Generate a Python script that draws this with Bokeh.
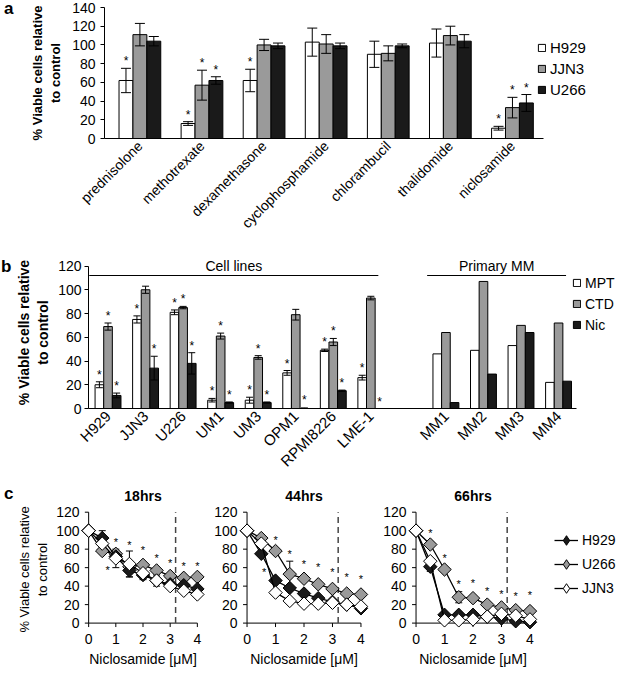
import math
from bokeh.plotting import figure
from bokeh.models import (ColumnDataSource, Whisker, TeeHead, Legend, LegendItem,
                          Range1d, FixedTicker, Div)
from bokeh.layouts import column, row
from bokeh.embed import file_html
from bokeh.resources import INLINE
from bokeh.core.properties import value

FONT = "Liberation Sans"
WHITE, GRAY, BLACK = "#ffffff", "#9a9a9a", "#1a1a1a"

# ---------------- panel a data ----------------
drugs = ["prednisolone", "methotrexate", "dexamethasone", "cyclophosphamide",
         "chlorambucil", "thalidomide", "niclosamide"]
a_names = ["H929", "JJN3", "U266"]
a_h929 = [62, 16, 62, 103, 90, 102, 11]
a_h929_err = [13, 2, 12, 15, 14, 15, 2]
a_jjn3 = [111, 57, 100, 101, 91, 110, 33]
a_jjn3_err = [12, 16, 6, 10, 8, 10, 11]
a_u266 = [104, 62, 99, 99, 99, 104, 38]
a_u266_err = [5, 4, 3, 3, 2, 7, 9]
a_h929_sig = [1, 1, 1, 0, 0, 0, 1]
a_jjn3_sig = [0, 1, 0, 0, 0, 0, 1]
a_u266_sig = [0, 1, 0, 0, 0, 0, 1]
a_yticks = [0, 20, 40, 60, 80, 100, 120, 140]

# ---------------- panel b data ----------------
b_labels = ["H929", "JJN3", "U226", "UM1", "UM3", "OPM1", "RPMI8226", "LME-1",
            "MM1", "MM2", "MM3", "MM4"]
b_pos = [0, 1, 2, 3, 4, 5, 6, 7, 9, 10, 11, 12]
b_names = ["MPT", "CTD", "Nic"]
b_mpt = [20, 75, 81, 7, 7, 30, 49, 26, 46, 49, 53, 22]
b_mpt_err = [2.5, 3, 2, 1.5, 2.5, 2, 1, 2, 0, 0, 0, 0]
b_ctd = [69, 100, 85, 61, 43, 79, 56, 93, 64, 107, 70, 72]
b_ctd_err = [3, 3, 1, 2.5, 1.5, 4.5, 3, 1.5, 0, 0, 0, 0]
b_nic = [11, 34, 38, 5, 5, -1, 15, 0, 5, 29, 64, 23]
b_nic_err = [2, 10, 9, 0.5, 0.5, 1.5, 0.5, 0, 0, 0, 0, 0]
b_mpt_sig = [1, 1, 1, 1, 1, 1, 1, 1, 0, 0, 0, 0]
b_ctd_sig = [1, 0, 1, 1, 1, 0, 1, 0, 0, 0, 0, 0]
b_nic_sig = [1, 1, 1, 1, 1, 1, 1, 1, 0, 0, 0, 0]
b_groups = ["Cell lines", "Primary MM"]
b_group_first = [0, 9]
b_group_last = [7, 12]
b_group_level = 112
b_yticks = [0, 20, 40, 60, 80, 100, 120]

# ---------------- panel c data ----------------
conc = [0, 0.5, 1, 1.5, 2, 2.5, 3, 3.5, 4]
c_names = ["H929", "U266", "JJN3"]
c_titles = ["18hrs", "44hrs", "66hrs"]
h18_h929 = [100, 92, 72, 57, 52, 46, 42, 41, 37]
h18_u266 = [100, 78, 75, 61, 63, 57, 51, 49, 50]
h18_jjn3 = [100, 86, 70, 64, 54, 46, 40, 35, 31]
h18_h929_err = [0, 8, 0, 7, 5, 0, 0, 0, 0]
h18_u266_err = [0, 0, 0, 0, 0, 0, 0, 0, 0]
h18_jjn3_err = [0, 0, 10, 14, 0, 6, 0, 0, 0]
h18_star_x = [0.7, 1, 1.5, 2, 2.5, 3, 3.5, 4]
h18_star_y = [58, 88, 85, 79, 70, 65, 62, 62]

h44_h929 = [100, 75, 46, 38, 32, 27, 23, 20, 16]
h44_u266 = [100, 92, 78, 53, 48, 42, 37, 32, 31]
h44_jjn3 = [100, 86, 33, 24, 21, 21, 22, 20, 18]
h44_h929_err = [0, 0, 0, 0, 0, 0, 0, 0, 0]
h44_u266_err = [0, 0, 0, 14, 0, 0, 0, 0, 0]
h44_jjn3_err = [0, 0, 0, 0, 0, 0, 0, 0, 0]
h44_star_x = [0.6, 1, 1.5, 2, 2.5, 3, 3.5, 4]
h44_star_y = [55, 90, 75, 64, 61, 55, 50, 48]

h66_h929 = [100, 61, 9, 9, 9, 7, 5, 2, 1]
h66_u266 = [100, 85, 58, 28, 27, 20, 17, 14, 13]
h66_jjn3 = [100, 67, 3, 3, 4, 7, 10, 8, 4]
h66_h929_err = [0, 5, 0, 0, 0, 0, 0, 0, 0]
h66_u266_err = [0, 0, 0, 6, 0, 0, 0, 0, 0]
h66_jjn3_err = [0, 0, 0, 0, 0, 0, 0, 0, 0]
h66_star_x = [0.5, 1, 1.5, 2, 2.5, 3, 3.5, 4]
h66_star_y = [97, 70, 42, 43, 35, 32, 29, 30]

threshold_conc = 3.2
c_xticks = [0, 1, 2, 3, 4]
c_yticks = [0, 20, 40, 60, 80, 100, 120]
YLABEL = "% Viable cells relative\nto control"


def style(p, tick_size="14px"):
    for ax in p.axis:
        ax.axis_line_color = "black"
        ax.axis_line_width = 1
        ax.major_tick_line_color = "black"
        ax.major_tick_out = 4
        ax.major_tick_in = 0
        ax.minor_tick_line_color = None
        ax.major_label_text_color = "black"
        ax.major_label_text_font = FONT
        ax.major_label_text_font_size = tick_size
        ax.axis_label_text_font = FONT
        ax.axis_label_text_color = "black"
    p.xgrid.grid_line_color = None
    p.ygrid.grid_line_color = None
    p.outline_line_color = None
    p.background_fill_color = None
    p.border_fill_color = None


def letter(txt, width, height, pad_top, pad_left):
    return Div(text=txt, width=width, height=height, margin=0,
               styles={"font-family": FONT, "font-size": "17px", "font-weight": "bold",
                       "line-height": "1", "padding-top": f"{pad_top}px",
                       "padding-left": f"{pad_left}px", "color": "black",
                       "box-sizing": "border-box"})


def make_legend(items, loc, glyph_w, glyph_h, size, spacing):
    return Legend(items=items, location=loc, orientation="vertical", padding=0, margin=0,
                  spacing=spacing, glyph_width=glyph_w, glyph_height=glyph_h,
                  label_height=17, label_standoff=4, label_text_font=FONT,
                  label_text_font_size=size, label_text_color="black",
                  border_line_color=None, background_fill_alpha=0)


def grouped_bars(p, pos, vals, errs, sigs, colors, names, w, cap, legend_loc,
                 star_size, legend_size):
    rends = []
    for j in range(3):
        xs = [x + (j - 1) * w for x in pos]
        r = p.vbar(x=xs, top=vals[j], width=w, fill_color=colors[j],
                   line_color="black", line_width=1)
        rends.append(r)
        idx = [i for i in range(len(xs)) if errs[j][i] > 0]
        wsrc = ColumnDataSource(dict(
            x=[xs[i] for i in idx],
            upper=[vals[j][i] + errs[j][i] for i in idx],
            lower=[vals[j][i] - errs[j][i] for i in idx]))
        wh = Whisker(base="x", upper="upper", lower="lower", source=wsrc,
                     level="annotation", line_color="black", line_width=1,
                     upper_head=TeeHead(size=cap, line_color="black", line_width=1),
                     lower_head=TeeHead(size=cap, line_color="black", line_width=1))
        p.add_layout(wh)
        sidx = [i for i in range(len(xs)) if sigs[j][i]]
        p.text(x=[xs[i] for i in sidx],
               y=[max(vals[j][i], 0) + errs[j][i] for i in sidx],
               text=value("*"), text_align="center", text_baseline="bottom",
               text_font=value(FONT), text_font_size=star_size, text_color="black")
    p.add_layout(make_legend([LegendItem(label=names[j], renderers=[rends[j]])
                              for j in range(3)], legend_loc, 9, 9, legend_size, 4))


# ================= panel a =================
A_LEFT, A_W, A_H = 90, 602, 239
a_x0, a_x1 = -0.57, 6.5
a_px_per_unit = 439 / (a_x1 - a_x0)
a_xend = a_x0 + (A_W - A_LEFT) / a_px_per_unit
pa = figure(width=A_W, height=A_H, min_border_left=A_LEFT, min_border_right=0,
            min_border_top=7, min_border_bottom=95,
            x_range=Range1d(a_x0, a_xend), y_range=Range1d(0, 140),
            output_backend="svg", toolbar_location=None)
grouped_bars(pa, list(range(len(drugs))),
             [a_h929, a_jjn3, a_u266], [a_h929_err, a_jjn3_err, a_u266_err],
             [a_h929_sig, a_jjn3_sig, a_u266_sig], [WHITE, GRAY, BLACK], a_names,
             0.224, 10, (433, 40), "12px", "15px")
style(pa, "14px")
pa.xaxis.bounds = (a_x0, a_x1)
pa.yaxis.ticker = FixedTicker(ticks=a_yticks)
pa.xaxis.ticker = FixedTicker(ticks=list(range(len(drugs))))
pa.xaxis.major_label_overrides = {i: d for i, d in enumerate(drugs)}
pa.xaxis.major_label_orientation = math.pi / 4
pa.xaxis.major_label_text_font_size = "14px"
pa.xaxis.major_tick_out = 0
pa.yaxis.axis_label = YLABEL
pa.yaxis.axis_label_text_font_style = "bold"
pa.yaxis.axis_label_text_font_size = "13px"
pa.yaxis.axis_label_standoff = 6
row_a = row(letter("a", 14, A_H, 0, 4), pa, spacing=0)

# ================= panel b =================
B_LEFT, B_W, B_H = 70, 604, 239
b_x0, b_x1 = -0.52, 12.49
b_px_per_unit = 494 / (b_x1 - b_x0)
b_xend = b_x0 + (B_W - B_LEFT) / b_px_per_unit
pb = figure(width=B_W, height=B_H, min_border_left=B_LEFT, min_border_right=0,
            min_border_top=17, min_border_bottom=67,
            x_range=Range1d(b_x0, b_xend), y_range=Range1d(0, 128),
            output_backend="svg", toolbar_location=None)
grouped_bars(pb, b_pos, [b_mpt, b_ctd, b_nic], [b_mpt_err, b_ctd_err, b_nic_err],
             [b_mpt_sig, b_ctd_sig, b_nic_sig], [WHITE, GRAY, BLACK], b_names,
             0.23, 7, (484, 75), "12px", "14px")
bx0 = [f - 0.5 for f in b_group_first]
bx1 = [l + 0.2 for l in b_group_last]
pb.segment(x0=bx0, x1=bx1, y0=[b_group_level] * 2, y1=[b_group_level] * 2,
           line_color="black", line_width=1)
pb.text(x=[(a + b) / 2 for a, b in zip(bx0, bx1)], y=[b_group_level] * 2, text=b_groups,
        text_align="center", text_baseline="bottom", y_offset=-2,
        text_font=value(FONT), text_font_size="14px", text_color="black")
style(pb, "14px")
pb.xaxis.bounds = (b_x0, b_x1)
pb.yaxis.bounds = (b_yticks[0], b_yticks[-1])
pb.yaxis.ticker = FixedTicker(ticks=b_yticks)
pb.yaxis.major_label_standoff = 3
pb.xaxis.ticker = FixedTicker(ticks=b_pos)
pb.xaxis.major_label_overrides = {p: l for p, l in zip(b_pos, b_labels)}
pb.xaxis.major_label_orientation = math.pi / 4
pb.xaxis.major_label_text_font_size = "15px"
pb.xaxis.major_tick_out = 0
pb.yaxis.axis_label = YLABEL
pb.yaxis.axis_label_text_font_style = "bold"
pb.yaxis.axis_label_text_font_size = "14px"
pb.yaxis.axis_label_standoff = 4
row_b = row(letter("b", 12, B_H, 19, 1), pb, spacing=0)

# ================= panel c =================
X0, X1 = -0.3, 4.3
Y0, Y1 = -8, 124
FRAME_W, FRAME_H = 131, 124
C_H = 191
c_fill = {"H929": BLACK, "U266": GRAY, "JJN3": WHITE}


def curve_panel(title, h929, u266, jjn3, errs, sx, sy, left, ylabel):
    p = figure(width=left + FRAME_W, height=C_H, min_border_left=left, min_border_right=0,
               min_border_top=30, min_border_bottom=37,
               x_range=Range1d(X0, X1), y_range=Range1d(Y0, Y1),
               output_backend="svg", toolbar_location=None, title=title)
    p.title.align = "center"
    p.title.text_font = FONT
    p.title.text_font_size = "14px"
    p.title.text_font_style = "bold"
    p.title.text_color = "black"
    # axes through the origin, drawn from the tick lists
    dx = 4 * (X1 - X0) / FRAME_W
    dy = 4 * (Y1 - Y0) / FRAME_H
    p.segment(x0=[0, 0], y0=[0, 0], x1=[0, c_xticks[-1]], y1=[c_yticks[-1], 0],
              line_color="black", line_width=1)
    p.segment(x0=[-dx] * len(c_yticks), x1=[0] * len(c_yticks), y0=c_yticks, y1=c_yticks,
              line_color="black", line_width=1)
    p.segment(x0=c_xticks, x1=c_xticks, y0=[0] * len(c_xticks), y1=[-dy] * len(c_xticks),
              line_color="black", line_width=1)
    # threshold line
    p.segment(x0=[threshold_conc], x1=[threshold_conc], y0=[c_yticks[0]], y1=[c_yticks[-1]],
              line_color="#444444", line_width=1.5, line_dash="6 4")
    series = [(u266, errs[1], c_fill["U266"]), (h929, errs[0], c_fill["H929"]),
              (jjn3, errs[2], c_fill["JJN3"])]
    for vals, err, col in series:
        idx = [i for i in range(len(conc)) if err[i] > 0]
        if idx:
            wsrc = ColumnDataSource(dict(x=[conc[i] for i in idx],
                                         upper=[vals[i] + err[i] for i in idx],
                                         lower=[vals[i] - err[i] for i in idx]))
            p.add_layout(Whisker(base="x", upper="upper", lower="lower", source=wsrc,
                                 level="underlay", line_color="black", line_width=1,
                                 upper_head=TeeHead(size=7, line_color="black", line_width=1),
                                 lower_head=TeeHead(size=7, line_color="black", line_width=1)))
        p.line(conc, vals, line_color="black", line_width=1.3)
        p.scatter(conc, vals, marker="square", angle=math.pi / 4, size=9.5,
                  fill_color=col, line_color="black", line_width=1)
    p.text(x=sx, y=sy, text=value("*"), text_align="center", text_baseline="middle",
           text_font=value(FONT), text_font_size="11px", text_color="black")
    style(p, "14px")
    for ax in p.axis:
        ax.axis_line_color = None
        ax.major_tick_out = 0
        ax.major_tick_line_color = None
    p.yaxis.major_label_standoff = 1
    p.xaxis.major_label_standoff = 3
    p.xaxis.ticker = FixedTicker(ticks=c_xticks)
    p.yaxis.ticker = FixedTicker(ticks=c_yticks)
    p.xaxis.axis_label = "Niclosamide [\u03bcM]"
    p.xaxis.axis_label_text_font_style = "normal"
    p.xaxis.axis_label_text_font_size = "14px"
    p.xaxis.axis_label_standoff = 4
    if ylabel:
        p.yaxis.axis_label = YLABEL
        p.yaxis.axis_label_text_font_style = "normal"
        p.yaxis.axis_label_text_font_size = "13px"
        p.yaxis.axis_label_standoff = 3
    return p


pc1 = curve_panel(c_titles[0], h18_h929, h18_u266, h18_jjn3,
                  [h18_h929_err, h18_u266_err, h18_jjn3_err], h18_star_x, h18_star_y,
                  60, True)
pc2 = curve_panel(c_titles[1], h44_h929, h44_u266, h44_jjn3,
                  [h44_h929_err, h44_u266_err, h44_jjn3_err], h44_star_x, h44_star_y,
                  33, False)
pc3 = curve_panel(c_titles[2], h66_h929, h66_u266, h66_jjn3,
                  [h66_h929_err, h66_u266_err, h66_jjn3_err], h66_star_x, h66_star_y,
                  38, False)

# legend for panel c: its own small canvas; the series are drawn there outside the
# visible range so that only the legend entries show
LEG_W = 616 - 14 - (60 + FRAME_W) - (33 + FRAME_W) - (38 + FRAME_W)
pl = figure(width=LEG_W, height=C_H, min_border=0, x_range=Range1d(-20, -19),
            y_range=Range1d(-20, -19), output_backend="svg", toolbar_location=None)
pl.axis.visible = False
pl.xgrid.grid_line_color = None
pl.ygrid.grid_line_color = None
pl.outline_line_color = None
pl.background_fill_color = None
pl.border_fill_color = None
leg_series = {"H929": h66_h929, "U266": h66_u266, "JJN3": h66_jjn3}
items = []
for n in c_names:
    lr = pl.line(conc, leg_series[n], line_color="black", line_width=1.3)
    sr = pl.scatter(conc, leg_series[n], marker="diamond", size=9.5,
                    fill_color=c_fill[n], line_color="black", line_width=1)
    items.append(LegendItem(label=n, renderers=[lr, sr]))
pl.add_layout(make_legend(items, (16, 30), 24, 24, "14px", 0))

row_c = row(letter("c", 14, C_H, 7, 4), pc1, pc2, pc3, pl, spacing=0)

layout = column(row_a, row_b, row_c, spacing=0)
open("out.html", "w").write(file_html(layout, INLINE))
